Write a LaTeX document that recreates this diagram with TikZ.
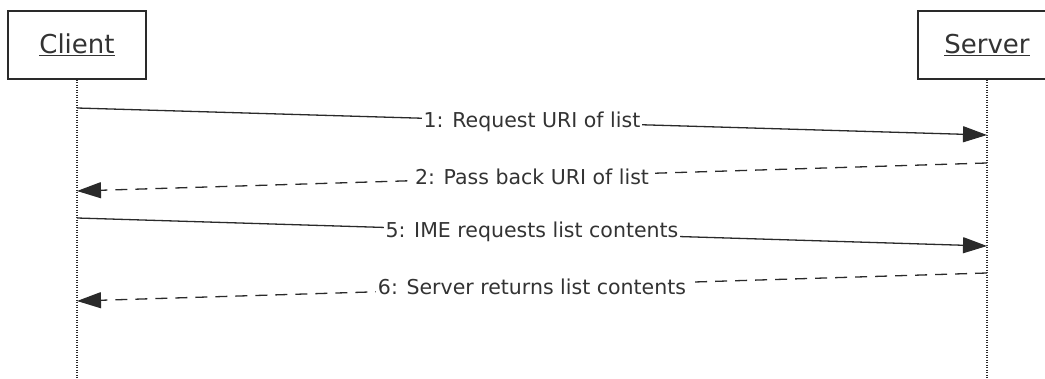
\documentclass[tikz,border=0pt]{standalone}
\usepackage{fontspec}
\setmainfont{DejaVu Sans}
\usetikzlibrary{arrows.meta}
\definecolor{ink}{HTML}{2A2A2A}
\definecolor{txt}{HTML}{333333}
\tikzset{
  actor/.style={draw=ink, line width=1.4pt, fill=white, minimum width=138pt, minimum height=68pt, inner sep=0pt, font=\fontsize{26}{31}\selectfont, text=txt},
  lifeline/.style={draw=ink, line width=1.3pt, dash pattern=on 1.2pt off 1.3pt},
  msg/.style={draw=ink, line width=1.3pt, -{Triangle[length=24pt,width=16pt]}},
  reply/.style={msg, dash pattern=on 12pt off 8pt},
  lbl/.style={fill=white, inner sep=2pt, text=txt, font=\fontsize{20.5}{24}\selectfont}
}
\begin{document}
\begin{tikzpicture}[x=1pt,y=-1pt]
\useasboundingbox (0,0) rectangle (1045,379);
\clip (0,0) rectangle (1045,379);
\node[actor] (client) at (77,45) {\underline{Client}};
\node[actor] (server) at (987,45) {\underline{Server}};
\coordinate (cend) at (77,379);
\coordinate (send) at (987,379);
\draw[lifeline] (client.south) -- (cend);
\draw[lifeline] (server.south) -- (send);
\coordinate (c1) at (77,108);  \coordinate (s1) at (987,135);
\coordinate (s2) at (987,163); \coordinate (c2) at (77,191);
\coordinate (c5) at (77,218);  \coordinate (s5) at (987,246);
\coordinate (s6) at (987,273); \coordinate (c6) at (77,301);
\draw[msg] (c1) -- node[lbl] {1: Request URI of list} (s1);
\draw[reply] (s2) -- node[lbl] {2: Pass back URI of list} (c2);
\draw[msg] (c5) -- node[lbl] {5: IME requests list contents} (s5);
\draw[reply] (s6) -- node[lbl] {6: Server returns list contents} (c6);
\end{tikzpicture}
\end{document}
